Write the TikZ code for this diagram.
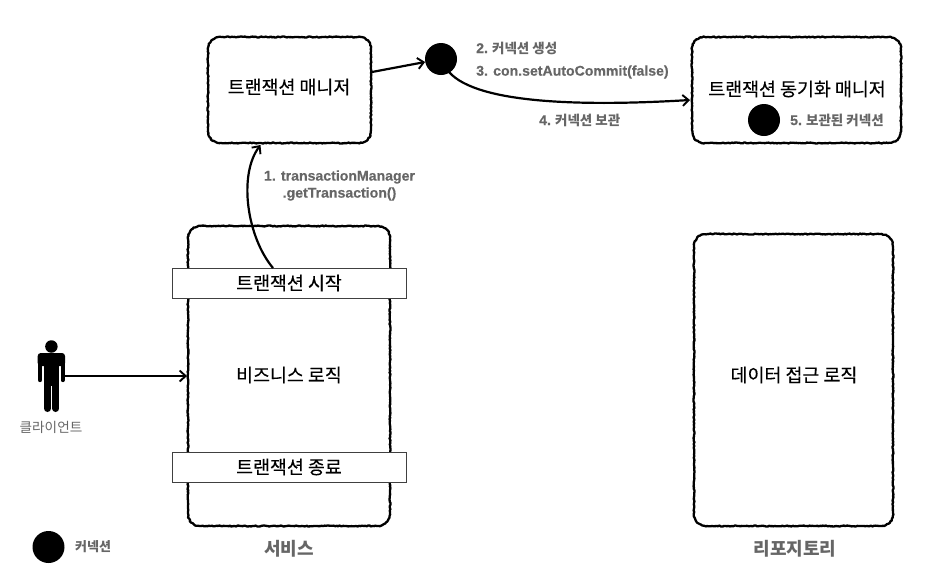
\documentclass[tikz,border=0pt]{standalone}
\usepackage{fontspec}
\setmainfont{Noto Sans CJK KR}
\newfontfamily\latb[FakeBold=0.35]{Liberation Sans}
\newfontfamily\krmain[FakeBold=0.2]{Noto Sans CJK KR}
\usetikzlibrary{decorations.pathmorphing,arrows.meta}
\definecolor{labgray}{HTML}{666666}
\pgfmathsetseed{7}
\tikzset{
  x=1pt,y=-1pt,
  rough/.style={draw=black,line width=2.3pt,fill=white,line join=round,decorate,decoration={random steps,segment length=1.5pt,amplitude=0.5pt}},
  main/.style={font=\fontsize{18.4}{22}\selectfont\krmain,text=black,inner sep=0pt},
  lab/.style={font=\fontsize{13.5}{16}\selectfont\bfseries,text=labgray,inner sep=0pt,align=center},
  conn/.style={line width=2.2pt,-{Straight Barb[length=6pt,width=11pt,line width=1.9pt]}},
  bar/.style={draw=black!75,line width=0.8pt,fill=white,minimum height=30pt,minimum width=234pt,inner sep=0pt,font=\fontsize{18.4}{22}\selectfont\krmain},
  conndot/.style={circle,fill=black,minimum size=32pt,inner sep=0pt},
}
\newcommand{\lt}[1]{{\fontsize{14.1}{17}\selectfont\latb #1}}
\newcommand{\roughbox}[4]{%
  \draw[rough] (#1+13,#2) -- (#3-13,#2) .. controls (#3-5,#2) and (#3,#2+5) .. (#3,#2+13)
   -- (#3,#4-13) .. controls (#3,#4-5) and (#3-5,#4) .. (#3-13,#4)
   -- (#1+13,#4) .. controls (#1+5,#4) and (#1,#4-5) .. (#1,#4-13)
   -- (#1,#2+13) .. controls (#1,#2+5) and (#1+5,#2) .. (#1+13,#2) -- cycle;}
\begin{document}
\begin{tikzpicture}
\useasboundingbox (0,0) rectangle (937,576);
% boxes
\roughbox{208}{37}{371}{143}
\coordinate (tmE) at (372,72);
\coordinate (tmS) at (260.5,145);
\node[main] (tm) at (289,87) {트랜잭션 매니저};
\roughbox{692}{37}{901}{143}
\coordinate (syncW) at (690,100);
\node[main] (sync) at (797,89) {트랜잭션 동기화 매니저};
\roughbox{188}{226}{390}{526}
\coordinate (svcW) at (187,376);
\roughbox{694}{234}{893}{526}
\node[main] (repo) at (794,375) {데이터 접근 로직};
\node[main] (biz) at (289,375) {비즈니스 로직};
\node[bar] (start) at (289,283) {트랜잭션 시작};
\node[bar] (end) at (289,467) {트랜잭션 종료};
% dots
\node[conndot] (d1) at (441,59) {};
\node[conndot] (d2) at (764,120) {};
\node[conndot] (d3) at (48.5,547) {};
% person
\node[circle,fill=black,minimum size=12.5pt,inner sep=0pt] (head) at (51.4,346.5) {};
\fill[black,rounded corners=3pt] (37.7,353) rectangle (65,366);
\draw[black,line width=4.4pt,line cap=round] (40,360) -- (40,380);
\draw[black,line width=4.4pt,line cap=round] (62.8,360) -- (62.8,380);
\fill[black] (44,356) rectangle (59.3,386);
\draw[black,line width=7pt,line cap=round] (47.5,380) -- (47.5,408.5);
\draw[black,line width=7pt,line cap=round] (55.8,380) -- (55.8,408.5);
\coordinate (pers) at (62,376);
\coordinate (d1o) at (449,72);
\coordinate (st) at (273,268);
% connectors
\draw[conn] (tmE) -- (d1);
\draw[conn] (d1o) .. controls (478,105) and (590,106) .. (syncW);
\draw[conn] (st) .. controls (247,237) and (238,175) .. (tmS);
\draw[conn] (pers) -- (svcW);
% labels
\node[lab] (l1) at (339.5,185.5) {\lt{1. transactionManager}\\[1pt]\lt{.getTransaction()}};
\node[lab,anchor=west] (l2) at (476,48) {\lt{2.} 커넥션 생성};
\node[lab,anchor=west] (l3) at (476,72) {\lt{3. con.setAutoCommit(false)}};
\node[lab,anchor=west] (l4) at (539,120) {\lt{4.} 커넥션 보관};
\node[lab,anchor=west] (l5) at (790,120) {\lt{5.} 보관된 커넥션};
\node[lab,font=\fontsize{13.6}{16}\selectfont] (cl) at (51,427) {클라이언트};
\node[lab,anchor=west,font=\fontsize{13}{16}\selectfont\bfseries] (conn) at (75,547) {커넥션};
\node[lab,font=\fontsize{18}{20}\selectfont\bfseries] (svc) at (289,549) {서비스};
\node[lab,font=\fontsize{18}{20}\selectfont\bfseries] (rp) at (795,549) {리포지토리};
\end{tikzpicture}
\end{document}
